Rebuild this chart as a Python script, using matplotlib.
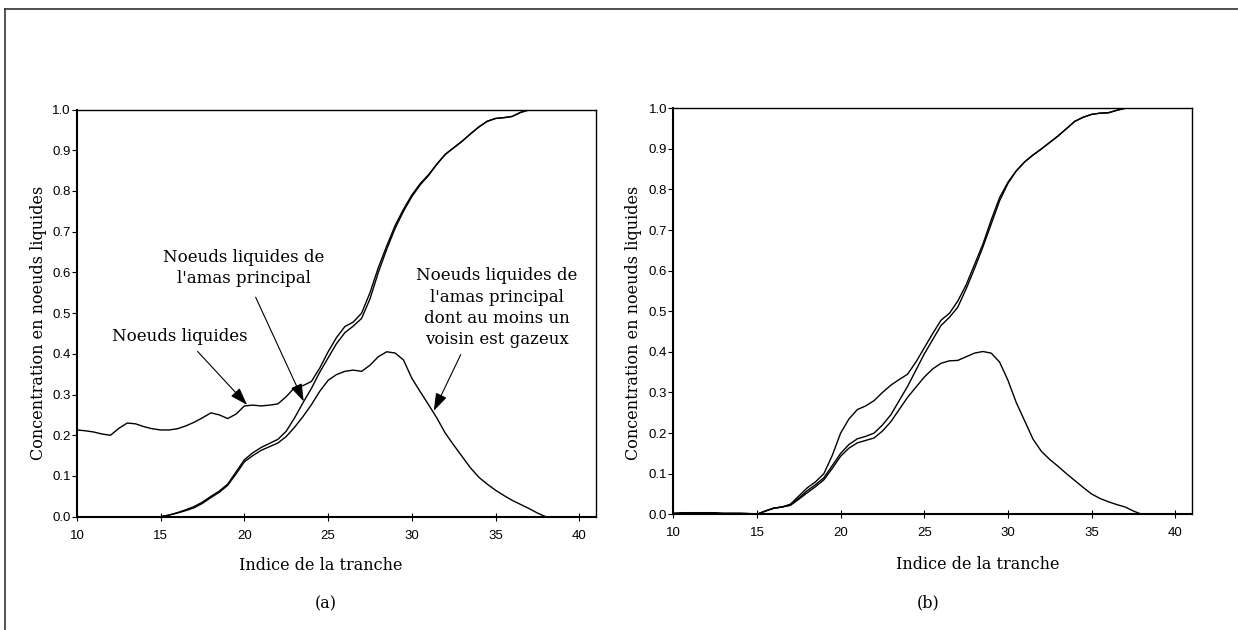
import numpy as np
import matplotlib
matplotlib.use("Agg")
import matplotlib.pyplot as plt
import matplotlib.ticker as mticker
from matplotlib.lines import Line2D

# slice index (x axis), read every half slice
tranche = np.arange(10, 41.01, 0.5)

# ---- panel (a) ----
a_liquides = [0.213, 0.211, 0.208, 0.203, 0.200, 0.217, 0.230, 0.228, 0.221, 0.216,
              0.213, 0.213, 0.216, 0.223, 0.232, 0.243, 0.255, 0.250, 0.241, 0.252,
              0.272, 0.274, 0.272, 0.274, 0.277, 0.295, 0.317, 0.322, 0.332, 0.365,
              0.405, 0.440, 0.467, 0.478, 0.500, 0.550, 0.612, 0.665, 0.715, 0.755,
              0.790, 0.818, 0.840, 0.866, 0.890, 0.906, 0.922, 0.940, 0.957, 0.971,
              0.978, 0.980, 0.983, 0.993, 0.999, 1.000, 1.000, 1.000, 1.000, 1.000,
              1.000, 1.000, 1.000]
a_amas = [0.0, 0.0, 0.0, 0.0, 0.0, 0.0, 0.0, 0.0, 0.0, 0.0,
          0.0, 0.004, 0.010, 0.017, 0.025, 0.036, 0.050, 0.063, 0.080, 0.110,
          0.140, 0.157, 0.170, 0.180, 0.190, 0.210, 0.243, 0.280, 0.315, 0.355,
          0.390, 0.425, 0.452, 0.468, 0.487, 0.535, 0.600, 0.657, 0.708, 0.750,
          0.786, 0.815, 0.838, 0.866, 0.890, 0.906, 0.922, 0.940, 0.957, 0.971,
          0.978, 0.980, 0.983, 0.993, 0.999, 1.000, 1.000, 1.000, 1.000, 1.000,
          1.000, 1.000, 1.000]
a_bord = [0.0, 0.0, 0.0, 0.0, 0.0, 0.0, 0.0, 0.0, 0.0, 0.0,
          0.0, 0.004, 0.009, 0.015, 0.022, 0.033, 0.047, 0.060, 0.077, 0.105,
          0.135, 0.150, 0.163, 0.172, 0.181, 0.197, 0.220, 0.246, 0.275, 0.308,
          0.335, 0.349, 0.357, 0.360, 0.357, 0.372, 0.393, 0.405, 0.402, 0.385,
          0.340, 0.307, 0.275, 0.242, 0.205, 0.176, 0.148, 0.120, 0.097, 0.080,
          0.065, 0.052, 0.040, 0.030, 0.020, 0.009, 0.0, 0.0, 0.0, 0.0,
          0.0, 0.0, 0.0]

# ---- panel (b) ----
b_liquides = [0.003, 0.004, 0.004, 0.004, 0.004, 0.004, 0.003, 0.003, 0.003, 0.002,
              0.000, 0.008, 0.015, 0.018, 0.025, 0.045, 0.065, 0.080, 0.100, 0.145,
              0.200, 0.235, 0.258, 0.267, 0.280, 0.300, 0.318, 0.332, 0.345, 0.375,
              0.410, 0.445, 0.478, 0.495, 0.525, 0.565, 0.615, 0.665, 0.725, 0.780,
              0.818, 0.846, 0.868, 0.885, 0.900, 0.916, 0.932, 0.950, 0.968, 0.978,
              0.985, 0.988, 0.989, 0.995, 1.000, 1.000, 1.000, 1.000, 1.000, 1.000,
              1.000, 1.000, 1.000]
b_amas = [0.0, 0.0, 0.0, 0.0, 0.0, 0.0, 0.0, 0.0, 0.0, 0.0,
          0.0, 0.008, 0.015, 0.018, 0.023, 0.040, 0.058, 0.073, 0.090, 0.120,
          0.150, 0.172, 0.186, 0.192, 0.200, 0.220, 0.245, 0.280, 0.315, 0.355,
          0.395, 0.430, 0.465, 0.485, 0.510, 0.555, 0.605, 0.658, 0.715, 0.772,
          0.815, 0.846, 0.868, 0.885, 0.900, 0.916, 0.932, 0.950, 0.968, 0.978,
          0.985, 0.988, 0.989, 0.995, 1.000, 1.000, 1.000, 1.000, 1.000, 1.000,
          1.000, 1.000, 1.000]
b_bord = [0.0, 0.0, 0.0, 0.0, 0.0, 0.0, 0.0, 0.0, 0.0, 0.0,
          0.0, 0.008, 0.015, 0.018, 0.022, 0.037, 0.053, 0.068, 0.085, 0.113,
          0.143, 0.163, 0.176, 0.182, 0.188, 0.205, 0.228, 0.258, 0.288, 0.313,
          0.338, 0.358, 0.372, 0.378, 0.379, 0.388, 0.397, 0.401, 0.397, 0.375,
          0.330, 0.275, 0.230, 0.185, 0.155, 0.135, 0.118, 0.100, 0.083, 0.066,
          0.050, 0.039, 0.031, 0.024, 0.018, 0.008, 0.0, 0.0, 0.0, 0.0,
          0.0, 0.0, 0.0]

SERIF = "DejaVu Serif"
SANS = "Liberation Sans"
W, H = 1238, 630


def setup_axes(ax):
    ax.set_xlim(10, 41)
    ax.set_ylim(0, 1)
    ax.xaxis.set_major_locator(mticker.MultipleLocator(5))
    ax.yaxis.set_major_locator(mticker.MultipleLocator(0.1))
    ax.yaxis.set_major_formatter(mticker.FormatStrFormatter("%.1f"))
    ax.tick_params(axis="y", direction="out", length=3.3, width=0.8, pad=1.2,
                   labelsize=9.5)
    ax.tick_params(axis="x", direction="inout", length=5.5, width=0.8, pad=6.5,
                   labelsize=9.5)
    for lab in ax.get_xticklabels() + ax.get_yticklabels():
        lab.set_fontfamily(SANS)
    for side in ("left", "bottom"):
        ax.spines[side].set_linewidth(1.5)
    for side in ("top", "right"):
        ax.spines[side].set_linewidth(1.0)
    ax.set_ylabel("Concentration en noeuds liquides", family=SERIF, fontsize=11.5)
    ax.set_xlabel("Indice de la tranche", family=SERIF, fontsize=11.5)
    ax.yaxis.label.set_va("center")
    ax.xaxis.label.set_va("center")


fig = plt.figure(figsize=(W / 100, H / 100), dpi=100)

ax_a = fig.add_axes([77 / W, 1 - 516.7 / H, 519 / W, 407.2 / H])
ax_b = fig.add_axes([673.3 / W, 1 - 514.3 / H, 518.7 / W, 406 / H])

for ax, series in ((ax_a, (a_liquides, a_amas, a_bord)),
                   (ax_b, (b_liquides, b_amas, b_bord))):
    for ys in series:
        ax.plot(tranche, ys, color="black", lw=1.0)
    setup_axes(ax)

ax_a.xaxis.set_label_coords(0.470, -0.1206)
ax_a.yaxis.set_label_coords(-0.075, 0.476)
ax_b.xaxis.set_label_coords(0.586, -0.1246)
ax_b.yaxis.set_label_coords(-0.0758, 0.471)

# annotations on panel (a)
txt = dict(family=SERIF, fontsize=12, ha="center", va="center",
           multialignment="center", linespacing=1.33)
ax_a.text(16.12, 0.4425, "Noeuds liquides", **txt)
ax_a.text(19.95, 0.61, "Noeuds liquides de\nl'amas principal", **txt)
ax_a.text(35.09, 0.5127,
          "Noeuds liquides de\nl'amas principal\ndont au moins un\nvoisin est gazeux",
          **txt)

arrow = dict(arrowstyle="-|>,head_length=0.9,head_width=0.3", color="black",
             lw=0.8, shrinkA=0, shrinkB=0, mutation_scale=12)
ax_a.annotate("", xy=(20.16, 0.2746), xytext=(17.2, 0.406), arrowprops=arrow)
ax_a.annotate("", xy=(23.54, 0.283), xytext=(20.67, 0.539), arrowprops=arrow)
ax_a.annotate("", xy=(31.31, 0.26), xytext=(32.92, 0.398), arrowprops=arrow)

fig.text(326 / W, 1 - 603.5 / H, "(a)", family=SERIF, fontsize=11.5,
         ha="center", va="center")
fig.text(928.3 / W, 1 - 602.5 / H, "(b)", family=SERIF, fontsize=11.5,
         ha="center", va="center")

# outer frame of the figure (only left and top edges are visible)
fig.add_artist(Line2D([5 / W, 5 / W], [0, 1 - 9 / H], color="#333333", lw=1.2,
                      transform=fig.transFigure))
fig.add_artist(Line2D([5 / W, 1], [1 - 9 / H, 1 - 9 / H], color="#333333", lw=1.2,
                      transform=fig.transFigure))

fig.savefig("out.png", dpi=100)
